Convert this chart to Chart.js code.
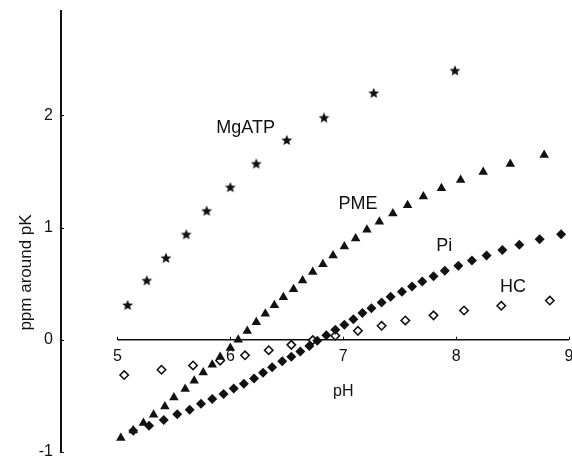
<!DOCTYPE html>
<html>
<head>
<meta charset="utf-8">
<script src="https://cdn.jsdelivr.net/npm/chart.js@4"></script>
<style>
  html, body { margin: 0; padding: 0; overflow: hidden; background: #fff; width: 572px; height: 456px; }
  #wrap { position: absolute; left: 0; top: -10px; width: 590px; height: 480px; }
</style>
</head>
<body>
<div id="wrap"><canvas id="chart" width="590" height="480"></canvas></div>
<script>
// Tick values
const xTicks = [5, 6, 7, 8, 9];
const yTicks = [-1, 0, 1, 2];

// MgATP (stars)
const mgatpPH  = [5.09, 5.26, 5.43, 5.61, 5.79, 6.00, 6.23, 6.50, 6.83, 7.27, 7.99];
const mgatpVal = [0.31, 0.53, 0.73, 0.94, 1.15, 1.36, 1.57, 1.78, 1.98, 2.20, 2.40];

// PME (filled triangles)
const pmePH  = [5.03, 5.14, 5.23, 5.32, 5.42, 5.50, 5.60, 5.68, 5.76, 5.84, 5.91, 6.00, 6.07, 6.15,
                6.23, 6.31, 6.39, 6.47, 6.56, 6.64, 6.73, 6.82, 6.91, 7.01, 7.11, 7.21, 7.32, 7.44,
                7.57, 7.71, 7.87, 8.04, 8.24, 8.48, 8.78];
const pmeVal = [-0.875, -0.808, -0.742, -0.668, -0.594, -0.514, -0.439, -0.365, -0.291, -0.223, -0.154,
                -0.074, 0.00, 0.078, 0.156, 0.232, 0.307, 0.380, 0.451, 0.528, 0.603, 0.674, 0.751,
                0.831, 0.902, 0.980, 1.051, 1.126, 1.199, 1.276, 1.351, 1.425, 1.496, 1.567, 1.647];

// Pi (filled diamonds)
const piPH  = [5.14, 5.28, 5.41, 5.53, 5.64, 5.74, 5.84, 5.94, 6.03, 6.12, 6.21, 6.29, 6.37, 6.46,
               6.54, 6.62, 6.70, 6.77, 6.85, 6.93, 7.01, 7.09, 7.17, 7.25, 7.34, 7.42, 7.52, 7.61,
               7.70, 7.80, 7.90, 8.02, 8.14, 8.27, 8.41, 8.56, 8.74, 8.93];
const piVal = [-0.810, -0.766, -0.715, -0.663, -0.623, -0.570, -0.527, -0.484, -0.434, -0.392, -0.345,
               -0.294, -0.245, -0.191, -0.151, -0.104, -0.055, -0.009, 0.040, 0.089, 0.134, 0.184,
               0.238, 0.282, 0.332, 0.383, 0.427, 0.475, 0.519, 0.567, 0.616, 0.659, 0.706, 0.751,
               0.801, 0.846, 0.897, 0.941];

// HC (open diamonds)
const hcPH  = [5.06, 5.39, 5.67, 5.91, 6.13, 6.34, 6.54, 6.73, 6.93, 7.13, 7.34, 7.55, 7.80, 8.07, 8.40, 8.83];
const hcVal = [-0.314, -0.267, -0.229, -0.185, -0.138, -0.093, -0.045, -0.003, 0.036, 0.080, 0.125,
               0.172, 0.218, 0.261, 0.303, 0.350];

// In-plot series labels (anchored at pH / value)
const seriesNames = ['MgATP', 'PME', 'Pi', 'HC'];
const labelPH  = [5.876, 6.958, 7.823, 8.389];
const labelVal = [1.845, 1.165, 0.793, 0.428];

const ink = '#111';
const fontFamily = '"Liberation Sans", Arial, sans-serif';

const zip = (xs, ys) => xs.map((x, i) => ({ x, y: ys[i] }));

// filled five-point star used as point style
function makeStar(size) {
    const c = document.createElement('canvas');
    c.width = c.height = size;
    const g = c.getContext('2d');
    const R = size / 2 - 0.3, r = R * 0.45, cx = size / 2, cy = size / 2 + 0.5;
    g.beginPath();
    for (let i = 0; i < 10; i++) {
        const a = -Math.PI / 2 + i * Math.PI / 5;
        const d = i % 2 ? r : R;
        g.lineTo(cx + d * Math.cos(a), cy + d * Math.sin(a));
    }
    g.closePath();
    g.fillStyle = ink;
    g.fill();
    return c;
}

// axis line from first to last x tick, small inward ticks, texts
const decor = {
    id: 'decor',
    beforeDatasetsDraw(chart) {
        const { ctx, scales: { x, y } } = chart;
        const y0 = y.getPixelForValue(0);
        ctx.save();
        ctx.strokeStyle = ink;
        ctx.lineWidth = 1.6;
        ctx.beginPath();
        ctx.moveTo(x.getPixelForValue(xTicks[0]), y0);
        ctx.lineTo(x.getPixelForValue(xTicks[xTicks.length - 1]), y0);
        ctx.stroke();
        ctx.lineWidth = 1;
        ctx.beginPath();
        xTicks.forEach(t => {
            const px = Math.round(x.getPixelForValue(t)) + 0.5;
            ctx.moveTo(px, y0);
            ctx.lineTo(px, y0 - 3);
        });
        yTicks.forEach(t => {
            const py = Math.round(y.getPixelForValue(t)) + 0.5;
            ctx.moveTo(chart.chartArea.left, py);
            ctx.lineTo(chart.chartArea.left + 3, py);
        });
        ctx.stroke();
        ctx.restore();
    },
    afterDraw(chart) {
        const { ctx, scales: { x, y }, chartArea } = chart;
        ctx.save();
        ctx.fillStyle = ink;
        ctx.textBaseline = 'alphabetic';
        ctx.textAlign = 'left';
        ctx.font = '18px ' + fontFamily;
        seriesNames.forEach((name, i) => {
            ctx.fillText(name, x.getPixelForValue(labelPH[i]), y.getPixelForValue(labelVal[i]));
        });
        // x title
        ctx.font = '16px ' + fontFamily;
        ctx.textAlign = 'center';
        ctx.fillText('pH', x.getPixelForValue(7), y.getPixelForValue(0) + 56);
        // y title
        ctx.translate(chartArea.left - 35, y.getPixelForValue(0.6));
        ctx.rotate(-Math.PI / 2);
        ctx.font = '17px ' + fontFamily;
        ctx.textBaseline = 'middle';
        ctx.fillText('ppm around pK', 0, 0);
        ctx.restore();
    }
};

new Chart(document.getElementById('chart'), {
    type: 'scatter',
    data: {
        datasets: [
            {
                label: 'MgATP',
                data: zip(mgatpPH, mgatpVal),
                pointStyle: makeStar(12),
                pointRadius: 6
            },
            {
                label: 'PME',
                data: zip(pmePH, pmeVal),
                pointStyle: 'triangle',
                pointRadius: 5.5,
                backgroundColor: ink,
                borderColor: ink,
                borderWidth: 0
            },
            {
                label: 'Pi',
                data: zip(piPH, piVal),
                pointStyle: 'rectRot',
                pointRadius: 5,
                backgroundColor: ink,
                borderColor: ink,
                borderWidth: 0
            },
            {
                label: 'HC',
                data: zip(hcPH, hcVal),
                pointStyle: 'rectRot',
                pointRadius: 4.2,
                backgroundColor: '#fff',
                borderColor: ink,
                borderWidth: 1.6
            }
        ]
    },
    options: {
        responsive: false,
        animation: false,
        events: [],
        layout: { padding: { top: 21, right: 21, bottom: 18, left: 0 } },
        plugins: {
            legend: { display: false },
            tooltip: { enabled: false }
        },
        scales: {
            x: {
                type: 'linear',
                min: 4.5,
                max: 9,
                position: { y: 0 },
                afterBuildTicks: (s) => { s.ticks = xTicks.map(v => ({ value: v })); },
                grid: { display: false, drawTicks: false },
                border: { display: false },
                ticks: {
                    color: ink,
                    padding: 7,
                    maxRotation: 0,
                    font: { family: fontFamily, size: 16 }
                }
            },
            y: {
                type: 'linear',
                min: -1,
                max: 2.93,
                position: 'left',
                afterBuildTicks: (s) => { s.ticks = yTicks.map(v => ({ value: v })); },
                afterFit: (s) => { s.width = 61; },
                grid: { display: false, drawTicks: false },
                border: { display: true, color: ink, width: 2 },
                ticks: {
                    color: ink,
                    padding: 8,
                    font: { family: fontFamily, size: 16 }
                }
            }
        }
    },
    plugins: [decor]
});
</script>
</body>
</html>
